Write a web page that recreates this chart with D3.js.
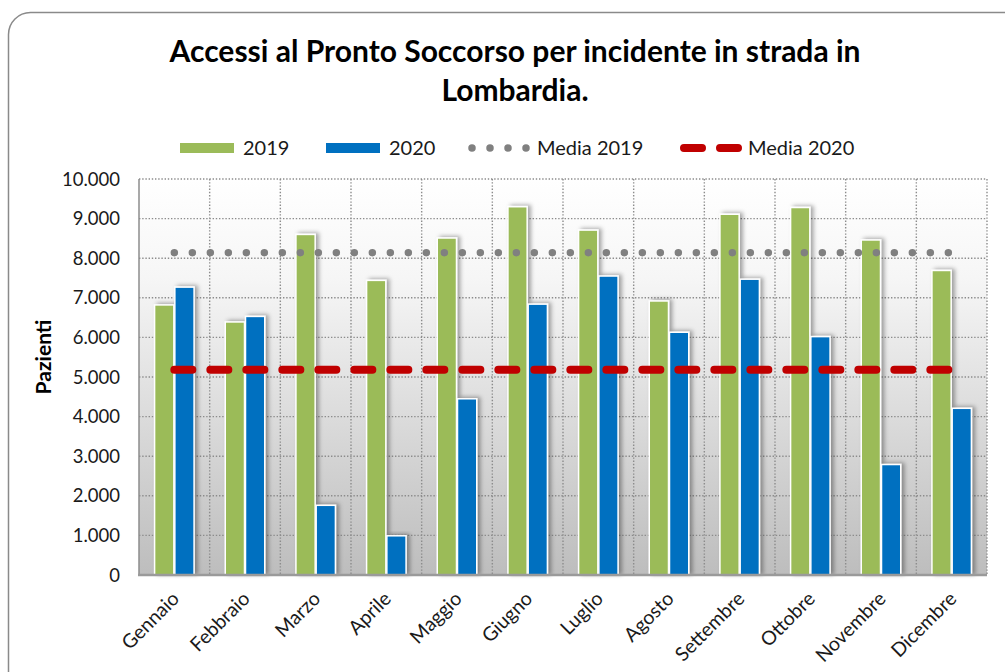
<!DOCTYPE html>
<html>
<head>
<meta charset="utf-8">
<script src="https://cdn.jsdelivr.net/npm/d3@7"></script>
<style>
  body { margin: 0; background: #fff; }
  svg { display: block; font-family: Lato, "Open Sans", sans-serif; }
</style>
</head>
<body>
<svg id="chart" width="1005" height="672"></svg>
<script>
// data
const months = ["Gennaio", "Febbraio", "Marzo", "Aprile", "Maggio", "Giugno",
  "Luglio", "Agosto", "Settembre", "Ottobre", "Novembre", "Dicembre"];
const values2019 = [6820, 6390, 8600, 7440, 8510, 9300, 8710, 6920, 9110, 9280, 8460, 7690];
const values2020 = [7270, 6530, 1760, 990, 4450, 6840, 7550, 6130, 7470, 6020, 2790, 4210];
const media2019 = [8140, 8140, 8140, 8140, 8140, 8140, 8140, 8140, 8140, 8140, 8140, 8140];
const media2020 = [5180, 5180, 5180, 5180, 5180, 5180, 5180, 5180, 5180, 5180, 5180, 5180];
const yTicks = [0, 1000, 2000, 3000, 4000, 5000, 6000, 7000, 8000, 9000, 10000];
const seriesNames = ["2019", "2020"];

const green = "#9BBB59", blue = "#0070C0", red = "#C00000", dotGray = "#808080";

const svg = d3.select("#chart");
const margin = { left: 139, right: 987, top: 179, bottom: 575 };

// outer rounded frame
svg.append("rect")
  .attr("x", 8.5).attr("y", 12.5)
  .attr("width", 1030).attr("height", 700)
  .attr("rx", 22)
  .attr("fill", "#fff")
  .attr("stroke", "#8a8a8a")
  .attr("stroke-width", 1.5);

const defs = svg.append("defs");
const grad = defs.append("linearGradient")
  .attr("id", "bg").attr("x1", 0).attr("y1", 0).attr("x2", 0).attr("y2", 1);
grad.append("stop").attr("offset", "0%").attr("stop-color", "#ffffff");
grad.append("stop").attr("offset", "25%").attr("stop-color", "#f6f6f6");
grad.append("stop").attr("offset", "100%").attr("stop-color", "#bdbdbd");

const shadow = defs.append("filter").attr("id", "shadow")
  .attr("x", "-50%").attr("y", "-10%").attr("width", "200%").attr("height", "120%");
shadow.append("feDropShadow")
  .attr("dx", 3).attr("dy", -1).attr("stdDeviation", 2.2)
  .attr("flood-color", "#000").attr("flood-opacity", 0.35);

// scales
const x = d3.scaleBand().domain(months).range([margin.left, margin.right]);
const xs = d3.scaleBand().domain(seriesNames).range([0, x.bandwidth()])
  .paddingInner(0.05).paddingOuter(0.77);
const y = d3.scaleLinear().domain([0, 10000]).range([margin.bottom, margin.top]);

// plot background
svg.append("rect")
  .attr("x", margin.left).attr("y", margin.top)
  .attr("width", margin.right - margin.left).attr("height", margin.bottom - margin.top)
  .attr("fill", "url(#bg)");

// gridlines
const grid = svg.append("g")
  .attr("stroke", "#8c8c8c")
  .attr("stroke-width", 1.4)
  .attr("stroke-dasharray", "1.4,1.8");
grid.selectAll("line.h")
  .data(yTicks.filter(d => d > 0))
  .join("line")
  .attr("class", "h")
  .attr("x1", margin.left).attr("x2", margin.right)
  .attr("y1", d => y(d)).attr("y2", d => y(d));
grid.selectAll("line.v")
  .data(months.slice(1).concat(["end"]))
  .join("line")
  .attr("class", "v")
  .attr("x1", d => d === "end" ? margin.right : x(d))
  .attr("x2", d => d === "end" ? margin.right : x(d))
  .attr("y1", margin.top).attr("y2", margin.bottom);

// bars
const groups = svg.append("g")
  .selectAll("g")
  .data(months)
  .join("g")
  .attr("transform", d => `translate(${x(d)},0)`);

groups.selectAll("rect")
  .data((d, i) => [
    { key: "2019", value: values2019[i] },
    { key: "2020", value: values2020[i] }
  ])
  .join("rect")
  .attr("x", d => xs(d.key))
  .attr("width", xs.bandwidth())
  .attr("y", d => y(d.value))
  .attr("height", d => y(0) - y(d.value))
  .attr("fill", d => d.key === "2019" ? green : blue)
  .attr("stroke", "#fff")
  .attr("stroke-width", 1.5)
  .attr("filter", "url(#shadow)");

// axes lines
svg.append("line")
  .attr("x1", margin.left).attr("x2", margin.left)
  .attr("y1", margin.top).attr("y2", margin.bottom)
  .attr("stroke", "#8c8c8c").attr("stroke-width", 1.5);
svg.append("line")
  .attr("x1", margin.left - 1).attr("x2", margin.right)
  .attr("y1", margin.bottom).attr("y2", margin.bottom)
  .attr("stroke", "#9a9a9a").attr("stroke-width", 2.5);

// average lines
const line = d3.line()
  .x((d, i) => x(months[i]) + x.bandwidth() / 2)
  .y(d => y(d));

svg.append("path")
  .datum(media2019)
  .attr("d", line)
  .attr("fill", "none")
  .attr("stroke", dotGray)
  .attr("stroke-width", 7.5)
  .attr("stroke-linecap", "round")
  .attr("stroke-dasharray", "0,18");

svg.append("path")
  .datum(media2020)
  .attr("d", line)
  .attr("fill", "none")
  .attr("stroke", red)
  .attr("stroke-width", 8)
  .attr("stroke-linecap", "round")
  .attr("stroke-dasharray", "18,18");

// y tick labels
const yFmt = d3.formatLocale({ decimal: ",", thousands: ".", grouping: [3], currency: ["€", ""] }).format(",");
svg.append("g")
  .selectAll("text")
  .data(yTicks)
  .join("text")
  .attr("x", 120)
  .attr("y", d => y(d))
  .attr("dy", "0.36em")
  .attr("text-anchor", "end")
  .style("font-size", "18.5px")
  .attr("fill", "#1a1a1a")
  .text(d => yFmt(d));

// y title
svg.append("text")
  .attr("transform", "translate(51,357) rotate(-90)")
  .attr("text-anchor", "middle")
  .style("font-size", "21px")
  .style("font-weight", "bold")
  .text("Pazienti");

// x labels
svg.append("g")
  .selectAll("text")
  .data(months)
  .join("text")
  .attr("transform", d => `translate(${x(d) + x.bandwidth() / 2 + 6},${margin.bottom + 25}) rotate(-45)`)
  .attr("text-anchor", "end")
  .style("font-size", "19.5px")
  .attr("fill", "#1a1a1a")
  .text(d => d);

// title
const title = svg.append("text")
  .attr("text-anchor", "middle")
  .style("font-size", "30px")
  .style("font-weight", "bold")
  .attr("fill", "#000");
title.append("tspan").attr("x", 515).attr("y", 62)
  .text("Accessi al Pronto Soccorso per incidente in strada in");
title.append("tspan").attr("x", 515).attr("y", 101)
  .text("Lombardia.");

// legend
const legendItems = [
  { label: "2019", type: "bar", color: green, x: 180 },
  { label: "2020", type: "bar", color: blue, x: 326 },
  { label: "Media 2019", type: "dots", color: dotGray, x: 472 },
  { label: "Media 2020", type: "dash", color: red, x: 684 }
];
const lg = svg.append("g").attr("transform", "translate(0,148)");
legendItems.forEach(item => {
  const g = lg.append("g").attr("transform", `translate(${item.x},0)`);
  let tx;
  if (item.type === "bar") {
    g.append("rect").attr("x", 0).attr("y", -5).attr("width", 54).attr("height", 10).attr("fill", item.color);
    tx = 63;
  } else if (item.type === "dots") {
    g.append("line").attr("x1", 0).attr("x2", 55).attr("y1", 0).attr("y2", 0)
      .attr("stroke", item.color).attr("stroke-width", 7.5)
      .attr("stroke-linecap", "round").attr("stroke-dasharray", "0,18");
    tx = 65;
  } else {
    g.append("line").attr("x1", 0).attr("x2", 54).attr("y1", 0).attr("y2", 0)
      .attr("stroke", item.color).attr("stroke-width", 8)
      .attr("stroke-linecap", "round").attr("stroke-dasharray", "18,18");
    tx = 64;
  }
  g.append("text")
    .attr("x", tx).attr("y", 0).attr("dy", "0.35em")
    .style("font-size", "20px")
    .attr("fill", "#1a1a1a")
    .text(item.label);
});
</script>
</body>
</html>
